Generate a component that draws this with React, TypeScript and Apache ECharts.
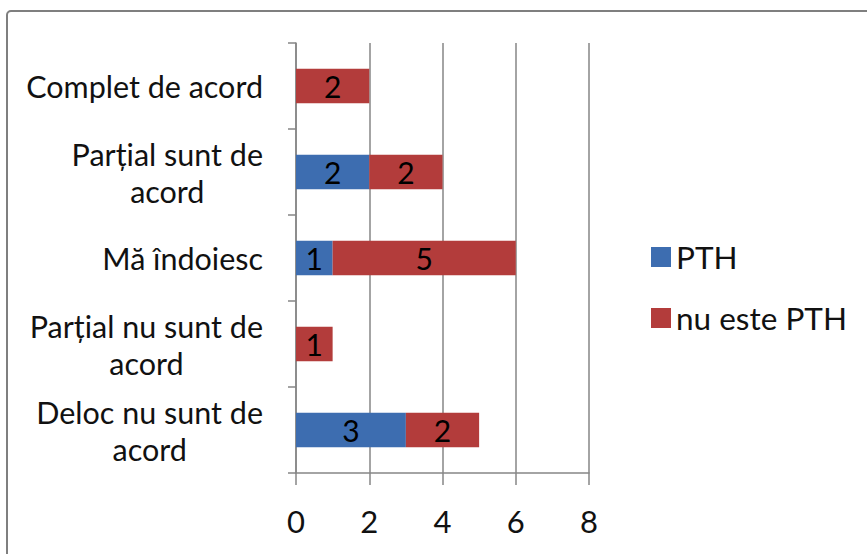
import React, { useEffect, useRef } from "react";
import * as echarts from "echarts";

const categories: string[] = [
  "Deloc nu sunt de\nacord",
  "Parțial nu sunt de\nacord",
  "Mă îndoiesc",
  "Parțial sunt de\nacord",
  "Complet de acord",
];
const seriesNames: string[] = ["PTH", "nu este PTH"];
const pthValues: number[] = [3, 0, 1, 2, 0];
const nuPthValues: number[] = [2, 1, 5, 2, 2];
const xTicks = { min: 0, max: 8, interval: 2 };

const FONT = "Lato, 'Open Sans', sans-serif";
const TEXT = "#111111";
const GRID = "#868686";

export default function App() {
  const ref = useRef<HTMLDivElement>(null);
  useEffect(() => {
    if (!ref.current) return;
    const chart = echarts.init(ref.current, undefined, { renderer: "svg" });
    const barLabel = {
      show: true,
      position: "inside" as const,
      color: "#000",
      fontFamily: FONT,
      fontSize: 30,
      formatter: (p: any) => (p.value ? String(p.value) : ""),
    };
    chart.setOption({
      animation: false,
      backgroundColor: "#ffffff",
      textStyle: { fontFamily: FONT },
      graphic: [
        {
          type: "rect",
          shape: { x: 7, y: 11, width: 880, height: 580, r: 4 },
          style: { fill: "none", stroke: "#7f7f7f", lineWidth: 2 },
          silent: true,
        },
      ],
      grid: { left: 296, right: 278, top: 43, bottom: 81, containLabel: false },
      legend: {
        orient: "vertical",
        left: 646,
        top: 236,
        itemWidth: 20,
        itemHeight: 20,
        itemGap: 29,
        itemTextGap: 9,
        icon: "rect",
        data: seriesNames,
        textStyle: { fontFamily: FONT, fontSize: 31.5, color: TEXT, lineHeight: 31 },
      },
      xAxis: {
        type: "value",
        min: xTicks.min,
        max: xTicks.max,
        interval: xTicks.interval,
        axisLine: { show: true, lineStyle: { color: GRID, width: 1.5 } },
        axisTick: { show: true, length: 12, lineStyle: { color: GRID, width: 1.5 } },
        splitLine: { show: true, lineStyle: { color: GRID, width: 1.5 } },
        axisLabel: { color: TEXT, fontFamily: FONT, fontSize: 31, margin: 32 },
      },
      yAxis: {
        type: "category",
        data: categories,
        axisLine: { show: true, lineStyle: { color: GRID, width: 1.5 } },
        axisTick: { show: true, length: 8, lineStyle: { color: GRID, width: 1.5 } },
        axisLabel: {
          margin: 33,
          formatter: (v: string) =>
            v
              .split("\n")
              .map((l) => `{c|${l}}`)
              .join("\n"),
          rich: {
            c: {
              align: "center",
              fontFamily: FONT,
              fontSize: 30.5,
              lineHeight: 37,
              color: TEXT,
            },
          },
        },
      },
      series: [
        {
          name: seriesNames[0],
          type: "bar",
          stack: "total",
          barWidth: "40%",
          data: pthValues,
          itemStyle: { color: "#3D6DB0" },
          label: barLabel,
        },
        {
          name: seriesNames[1],
          type: "bar",
          stack: "total",
          barWidth: "40%",
          data: nuPthValues,
          itemStyle: { color: "#B33C3B" },
          label: barLabel,
        },
      ],
    });
    return () => chart.dispose();
  }, []);
  return (
    <div
      ref={ref}
      style={{ position: "fixed", left: 0, top: 0, width: 867, height: 554 }}
    />
  );
}
